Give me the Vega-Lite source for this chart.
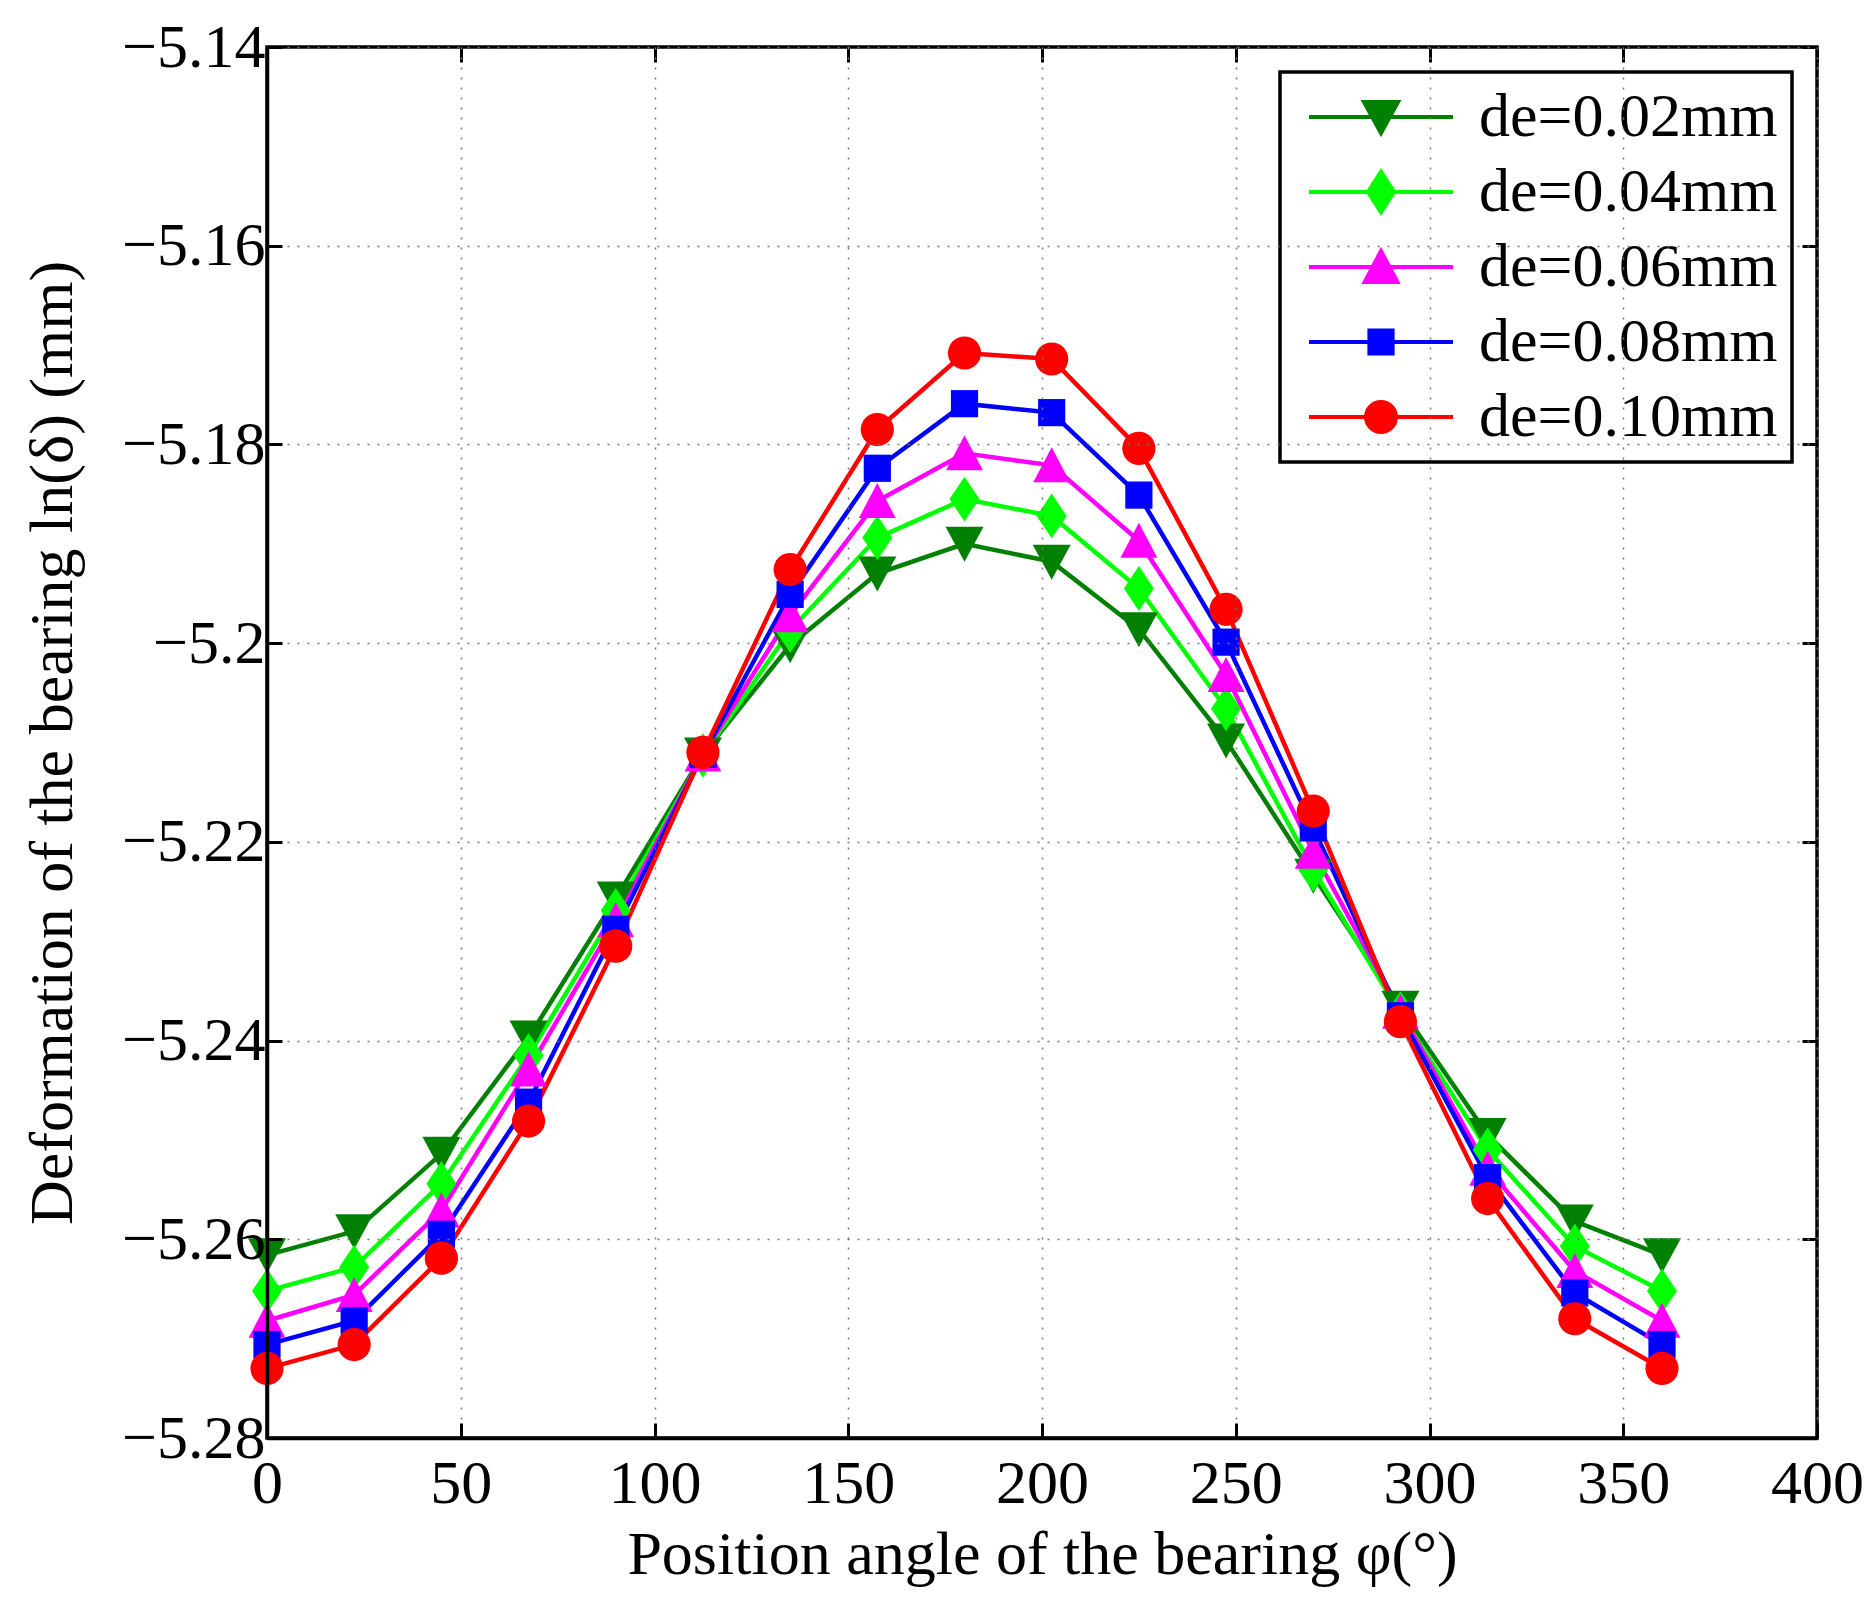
{
  "$schema": "https://vega.github.io/schema/vega-lite/v6.json",
  "width": 1550,
  "height": 1391,
  "autosize": "none",
  "padding": {"left": 267, "top": 47, "right": 55, "bottom": 171},
  "background": "white",
  "config": {
    "view": {"stroke": "black", "strokeWidth": 3.5},
    "font": "Liberation Serif",
    "legend": {"strokeWidth": 3.5}
  },
  "data": {
    "values": [
      {"phi": 0, "series": "de=0.02mm", "v": -5.2616},
      {"phi": 22.5, "series": "de=0.02mm", "v": -5.2592},
      {"phi": 45, "series": "de=0.02mm", "v": -5.2514},
      {"phi": 67.5, "series": "de=0.02mm", "v": -5.2397},
      {"phi": 90, "series": "de=0.02mm", "v": -5.2257},
      {"phi": 112.5, "series": "de=0.02mm", "v": -5.2112},
      {"phi": 135, "series": "de=0.02mm", "v": -5.2002},
      {"phi": 157.5, "series": "de=0.02mm", "v": -5.193},
      {"phi": 180, "series": "de=0.02mm", "v": -5.19},
      {"phi": 202.5, "series": "de=0.02mm", "v": -5.1918},
      {"phi": 225, "series": "de=0.02mm", "v": -5.1986},
      {"phi": 247.5, "series": "de=0.02mm", "v": -5.2098},
      {"phi": 270, "series": "de=0.02mm", "v": -5.2234},
      {"phi": 292.5, "series": "de=0.02mm", "v": -5.2367},
      {"phi": 315, "series": "de=0.02mm", "v": -5.2495},
      {"phi": 337.5, "series": "de=0.02mm", "v": -5.2582},
      {"phi": 360, "series": "de=0.02mm", "v": -5.2616},

      {"phi": 0, "series": "de=0.04mm", "v": -5.2652},
      {"phi": 22.5, "series": "de=0.04mm", "v": -5.2628},
      {"phi": 45, "series": "de=0.04mm", "v": -5.2544},
      {"phi": 67.5, "series": "de=0.04mm", "v": -5.2415},
      {"phi": 90, "series": "de=0.04mm", "v": -5.2269},
      {"phi": 112.5, "series": "de=0.04mm", "v": -5.2113},
      {"phi": 135, "series": "de=0.04mm", "v": -5.1987},
      {"phi": 157.5, "series": "de=0.04mm", "v": -5.1894},
      {"phi": 180, "series": "de=0.04mm", "v": -5.1855},
      {"phi": 202.5, "series": "de=0.04mm", "v": -5.1872},
      {"phi": 225, "series": "de=0.04mm", "v": -5.1945},
      {"phi": 247.5, "series": "de=0.04mm", "v": -5.2066},
      {"phi": 270, "series": "de=0.04mm", "v": -5.2228},
      {"phi": 292.5, "series": "de=0.04mm", "v": -5.2373},
      {"phi": 315, "series": "de=0.04mm", "v": -5.251},
      {"phi": 337.5, "series": "de=0.04mm", "v": -5.2607},
      {"phi": 360, "series": "de=0.04mm", "v": -5.2652},

      {"phi": 0, "series": "de=0.06mm", "v": -5.2682},
      {"phi": 22.5, "series": "de=0.06mm", "v": -5.2656},
      {"phi": 45, "series": "de=0.06mm", "v": -5.2571},
      {"phi": 67.5, "series": "de=0.06mm", "v": -5.2429},
      {"phi": 90, "series": "de=0.06mm", "v": -5.2279},
      {"phi": 112.5, "series": "de=0.06mm", "v": -5.2112},
      {"phi": 135, "series": "de=0.06mm", "v": -5.1972},
      {"phi": 157.5, "series": "de=0.06mm", "v": -5.1857},
      {"phi": 180, "series": "de=0.06mm", "v": -5.1809},
      {"phi": 202.5, "series": "de=0.06mm", "v": -5.1821},
      {"phi": 225, "series": "de=0.06mm", "v": -5.1897},
      {"phi": 247.5, "series": "de=0.06mm", "v": -5.2032},
      {"phi": 270, "series": "de=0.06mm", "v": -5.221},
      {"phi": 292.5, "series": "de=0.06mm", "v": -5.2371},
      {"phi": 315, "series": "de=0.06mm", "v": -5.2529},
      {"phi": 337.5, "series": "de=0.06mm", "v": -5.2632},
      {"phi": 360, "series": "de=0.06mm", "v": -5.2682},

      {"phi": 0, "series": "de=0.08mm", "v": -5.2706},
      {"phi": 22.5, "series": "de=0.08mm", "v": -5.2682},
      {"phi": 45, "series": "de=0.08mm", "v": -5.2595},
      {"phi": 67.5, "series": "de=0.08mm", "v": -5.2462},
      {"phi": 90, "series": "de=0.08mm", "v": -5.2288},
      {"phi": 112.5, "series": "de=0.08mm", "v": -5.2112},
      {"phi": 135, "series": "de=0.08mm", "v": -5.1951},
      {"phi": 157.5, "series": "de=0.08mm", "v": -5.1824},
      {"phi": 180, "series": "de=0.08mm", "v": -5.1759},
      {"phi": 202.5, "series": "de=0.08mm", "v": -5.1768},
      {"phi": 225, "series": "de=0.08mm", "v": -5.1851},
      {"phi": 247.5, "series": "de=0.08mm", "v": -5.1999},
      {"phi": 270, "series": "de=0.08mm", "v": -5.2186},
      {"phi": 292.5, "series": "de=0.08mm", "v": -5.2375},
      {"phi": 315, "series": "de=0.08mm", "v": -5.2538},
      {"phi": 337.5, "series": "de=0.08mm", "v": -5.2654},
      {"phi": 360, "series": "de=0.08mm", "v": -5.2706},

      {"phi": 0, "series": "de=0.10mm", "v": -5.273},
      {"phi": 22.5, "series": "de=0.10mm", "v": -5.2706},
      {"phi": 45, "series": "de=0.10mm", "v": -5.2619},
      {"phi": 67.5, "series": "de=0.10mm", "v": -5.2481},
      {"phi": 90, "series": "de=0.10mm", "v": -5.2305},
      {"phi": 112.5, "series": "de=0.10mm", "v": -5.211},
      {"phi": 135, "series": "de=0.10mm", "v": -5.1926},
      {"phi": 157.5, "series": "de=0.10mm", "v": -5.1785},
      {"phi": 180, "series": "de=0.10mm", "v": -5.1708},
      {"phi": 202.5, "series": "de=0.10mm", "v": -5.1714},
      {"phi": 225, "series": "de=0.10mm", "v": -5.1804},
      {"phi": 247.5, "series": "de=0.10mm", "v": -5.1966},
      {"phi": 270, "series": "de=0.10mm", "v": -5.2169},
      {"phi": 292.5, "series": "de=0.10mm", "v": -5.2381},
      {"phi": 315, "series": "de=0.10mm", "v": -5.2559},
      {"phi": 337.5, "series": "de=0.10mm", "v": -5.268},
      {"phi": 360, "series": "de=0.10mm", "v": -5.273}
    ]
  },
  "layer": [
    {
      "mark": {"type": "line", "strokeWidth": 4.5},
      "encoding": {
        "x": {
          "field": "phi",
          "type": "quantitative",
          "scale": {"domain": [0, 400], "nice": false},
          "axis": {
            "values": [0, 50, 100, 150, 200, 250, 300, 350, 400],
            "grid": true,
            "gridDash": [2, 8],
            "gridColor": "#777777",
            "gridWidth": 1.5,
            "tickSize": -15,
            "tickWidth": 3,
            "tickColor": "black",
            "domainColor": "black",
            "domainWidth": 3.5,
            "labelFont": "Liberation Serif",
            "labelFontSize": 62,
            "labelColor": "black",
            "labelPadding": 30,
            "labelFlush": false,
            "labelOverlap": false,
            "title": "Position angle of the bearing φ(°)",
            "titleFont": "Liberation Serif",
            "titleFontSize": 62,
            "titleFontWeight": "normal",
            "titleColor": "black",
            "titlePadding": 10,
            "zindex": 1
          }
        },
        "y": {
          "field": "v",
          "type": "quantitative",
          "scale": {"domain": [-5.28, -5.14], "nice": false, "zero": false},
          "axis": {
            "values": [-5.28, -5.26, -5.24, -5.22, -5.2, -5.18, -5.16, -5.14],
            "format": ".3~g",
            "grid": true,
            "gridDash": [2, 8],
            "gridColor": "#777777",
            "gridWidth": 1.5,
            "tickSize": -15,
            "tickWidth": 3,
            "tickColor": "black",
            "domainColor": "black",
            "domainWidth": 3.5,
            "labelFont": "Liberation Serif",
            "labelFontSize": 62,
            "labelColor": "black",
            "labelPadding": 17,
            "labelOverlap": false,
            "title": "Deformation of the bearing ln(δ) (mm)",
            "titleFont": "Liberation Serif",
            "titleFontSize": 62,
            "titleFontWeight": "normal",
            "titleColor": "black",
            "titlePadding": 37,
            "zindex": 1
          }
        },
        "color": {
          "field": "series",
          "type": "nominal",
          "scale": {
            "domain": ["de=0.02mm", "de=0.04mm", "de=0.06mm", "de=0.08mm", "de=0.10mm"],
            "range": ["#008000", "#00ff00", "#ff00ff", "#0000ff", "#ff0000"]
          },
          "legend": null
        }
      }
    },
    {
      "mark": {"type": "point", "filled": true, "opacity": 1, "size": 1600},
      "encoding": {
        "x": {"field": "phi", "type": "quantitative", "axis": null},
        "y": {"field": "v", "type": "quantitative", "axis": null},
        "color": {"field": "series", "type": "nominal", "legend": null},
        "shape": {
          "field": "series",
          "type": "nominal",
          "scale": {
            "domain": ["de=0.02mm", "de=0.04mm", "de=0.06mm", "de=0.08mm", "de=0.10mm"],
            "range": [
              "M-0.95,-0.85L0.95,-0.85L0,0.9Z",
              "M0,-1.12L0.75,0L0,1.12L-0.75,0Z",
              "M-0.92,0.85L0.92,0.85L0,-0.9Z",
              "M-0.68,-0.68L0.68,-0.68L0.68,0.68L-0.68,0.68Z",
              "M-0.83,0A0.83,0.83,0,1,0,0.83,0A0.83,0.83,0,1,0,-0.83,0Z"
            ]
          },
          "legend": null
        }
      }
    },
    {
      "transform": [{"filter": "false"}],
      "mark": {"type": "point", "filled": true, "opacity": 1, "size": 1600, "strokeWidth": 4},
      "encoding": {
        "x": {
          "field": "phi",
          "type": "quantitative",
          "axis": {
            "orient": "top",
            "values": [0, 50, 100, 150, 200, 250, 300, 350, 400],
            "labels": false,
            "domain": false,
            "grid": false,
            "tickSize": -15,
            "tickWidth": 3,
            "tickColor": "black",
            "title": null
          }
        },
        "y": {
          "field": "v",
          "type": "quantitative",
          "axis": {
            "orient": "right",
            "values": [-5.28, -5.26, -5.24, -5.22, -5.2, -5.18, -5.16, -5.14],
            "labels": false,
            "domain": false,
            "grid": false,
            "tickSize": -15,
            "tickWidth": 3,
            "tickColor": "black",
            "title": null
          }
        },
        "fill": {
          "field": "series",
          "type": "nominal",
          "scale": {
            "domain": ["de=0.02mm", "de=0.04mm", "de=0.06mm", "de=0.08mm", "de=0.10mm"],
            "range": ["#008000", "#00ff00", "#ff00ff", "#0000ff", "#ff0000"]
          },
          "legend": {
            "title": null,
            "orient": "top-right",
            "offset": 25,
            "padding": 14,
            "strokeColor": "black",
            "fillColor": "white",
            "labelFont": "Liberation Serif",
            "labelFontSize": 62,
            "labelColor": "black",
            "labelLimit": 600,
            "labelOffset": 67,
            "symbolOffset": 56,
            "symbolSize": 1600,
            "symbolStrokeWidth": 4,
            "symbolOpacity": 1,
            "rowPadding": 13
          }
        },
        "stroke": {
          "field": "series",
          "type": "nominal",
          "scale": {
            "domain": ["de=0.02mm", "de=0.04mm", "de=0.06mm", "de=0.08mm", "de=0.10mm"],
            "range": ["#008000", "#00ff00", "#ff00ff", "#0000ff", "#ff0000"]
          },
          "legend": {
            "title": null,
            "orient": "top-right",
            "offset": 25,
            "padding": 14,
            "strokeColor": "black",
            "fillColor": "white",
            "labelFont": "Liberation Serif",
            "labelFontSize": 62,
            "labelColor": "black",
            "labelLimit": 600,
            "labelOffset": 67,
            "symbolOffset": 56,
            "symbolSize": 1600,
            "symbolStrokeWidth": 4,
            "symbolOpacity": 1,
            "rowPadding": 13
          }
        },
        "shape": {
          "field": "series",
          "type": "nominal",
          "scale": {
            "domain": ["de=0.02mm", "de=0.04mm", "de=0.06mm", "de=0.08mm", "de=0.10mm"],
            "range": [
              "M-3.6,0L3.6,0M-0.85,-0.75L0.85,-0.75L0,0.8Z",
              "M-3.6,0L3.6,0M0,-1.02L0.65,0L0,1.02L-0.65,0Z",
              "M-3.6,0L3.6,0M-0.82,0.75L0.82,0.75L0,-0.8Z",
              "M-3.6,0L3.6,0M-0.58,-0.58L0.58,-0.58L0.58,0.58L-0.58,0.58Z",
              "M-3.6,0L3.6,0M-0.75,0A0.75,0.75,0,1,0,0.75,0A0.75,0.75,0,1,0,-0.75,0Z"
            ]
          },
          "legend": {
            "title": null,
            "orient": "top-right",
            "offset": 25,
            "padding": 14,
            "strokeColor": "black",
            "fillColor": "white",
            "labelFont": "Liberation Serif",
            "labelFontSize": 62,
            "labelColor": "black",
            "labelLimit": 600,
            "labelOffset": 67,
            "symbolOffset": 56,
            "symbolSize": 1600,
            "symbolStrokeWidth": 4,
            "symbolOpacity": 1,
            "rowPadding": 13
          }
        }
      }
    }
  ],
  "resolve": {
    "scale": {"shape": "independent", "fill": "independent", "stroke": "independent"},
    "axis": {"x": "independent", "y": "independent"},
    "legend": {"shape": "independent", "color": "independent", "fill": "independent", "stroke": "independent"}
  }
}
